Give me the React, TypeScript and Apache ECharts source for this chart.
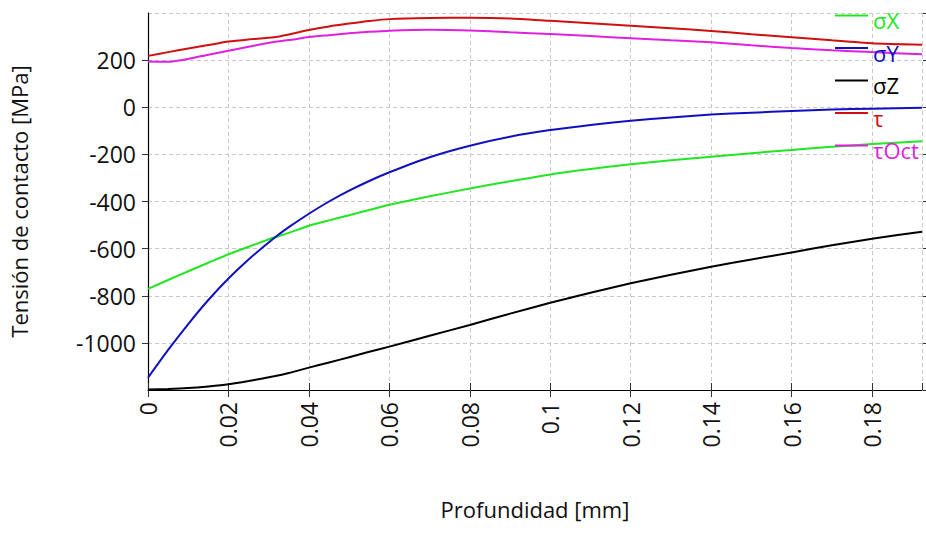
import React, { useEffect, useRef } from "react";
import * as echarts from "echarts";

const depth = [0, 0.005, 0.01, 0.015, 0.02, 0.025, 0.0313, 0.035, 0.04, 0.045, 0.05, 0.055, 0.06, 0.07, 0.08, 0.09, 0.1, 0.11, 0.12, 0.13, 0.14, 0.15, 0.16, 0.17, 0.18, 0.1924];
const sigmaX = [-771, -733, -696, -660, -624, -592, -553, -533, -503, -480, -458, -436, -414, -378, -345, -314, -285, -262, -242, -225, -210, -195, -181, -168, -156, -144];
const sigmaY = [-1148, -1030, -920, -818, -727, -646, -556, -509, -452, -400, -354, -313, -276, -212, -163, -125, -97, -75, -57, -43, -31, -23, -16, -10, -6, -2];
const sigmaZ = [-1198, -1196, -1192, -1185, -1176, -1162, -1142, -1128, -1105, -1083, -1061, -1038, -1016, -970, -924, -876, -830, -787, -747, -711, -677, -646, -616, -586, -558, -528];
const tau = [218, 234, 249, 264, 279, 288, 297, 309, 328, 343, 355, 366, 374, 379, 380, 377, 367, 357, 346, 335, 324, 310, 297, 284, 272, 265];
const tauOct = [194, 193, 205, 223, 240, 257, 277, 285, 298, 306, 314, 320, 325, 329, 326, 318, 311, 302, 293, 284, 276, 263, 251, 242, 234, 225];

const seriesNames = ["σX", "σY", "σZ", "τ", "τOct"];
const seriesColors = ["#22e622", "#1010c0", "#000000", "#d01010", "#e020e0"];
const seriesValues = [sigmaX, sigmaY, sigmaZ, tau, tauOct];

const xTitle = "Profundidad [mm]";
const yTitle = "Tensión de contacto [MPa]";

const FONT = "Open Sans";

export default function App() {
  const ref = useRef<HTMLDivElement>(null);
  useEffect(() => {
    if (!ref.current) return;
    const chart = echarts.init(ref.current, null, { renderer: "svg" });
    const xMin = 0, xMax = 0.1924, yMin = -1200, yMax = 400;
    const tickStyle = { color: "#333", width: 1 };
    chart.setOption({
      animation: false,
      backgroundColor: "#fff",
      textStyle: { fontFamily: FONT },
      grid: { left: 147, right: 4, top: 13, bottom: 144, containLabel: false },
      legend: {
        orient: "vertical",
        left: 835,
        top: 9,
        padding: 0,
        itemWidth: 33,
        itemHeight: 11,
        itemGap: 10.5,
        icon: "path://M0,0H33V2H0ZM0,11H0.01V11.01H0Z",
        textStyle: { fontFamily: FONT, fontSize: 22, lineHeight: 22 },
        data: seriesNames.map((n, i) => ({ name: n, textStyle: { color: seriesColors[i] } })),
      },
      xAxis: [
        {
          type: "value",
          min: xMin,
          max: xMax,
          interval: 0.02,
          name: xTitle,
          nameLocation: "middle",
          nameGap: 108,
          nameTextStyle: { fontFamily: FONT, fontSize: 22, color: "#111" },
          axisLine: { show: true, onZero: false, lineStyle: { color: "#000", width: 1.2 } },
          axisTick: { show: true, length: 7, lineStyle: tickStyle },
          axisLabel: { rotate: 90, margin: 12, fontFamily: FONT, fontSize: 23, color: "#111", showMaxLabel: false },
          splitLine: { show: true, lineStyle: { color: "#c8c8c8", type: [4, 3], width: 1 } },
        },
        {
          type: "value",
          position: "top",
          offset: -377,
          min: xMin,
          max: xMax,
          interval: 0.02,
          axisLine: { show: false },
          axisTick: { show: true, length: 7, lineStyle: tickStyle },
          axisLabel: { show: false },
          splitLine: { show: false },
        },
      ],
      yAxis: [
        {
          type: "value",
          min: yMin,
          max: yMax,
          interval: 200,
          name: yTitle,
          nameLocation: "middle",
          nameGap: 118,
          nameRotate: 90,
          nameTextStyle: { fontFamily: FONT, fontSize: 22, color: "#111" },
          axisLine: { show: true, onZero: false, lineStyle: { color: "#000", width: 1.2 } },
          axisTick: { show: true, length: 6, lineStyle: tickStyle },
          axisLabel: {
            margin: 12,
            fontFamily: FONT,
            fontSize: 23,
            color: "#111",
            showMaxLabel: false,
            showMinLabel: false,
            formatter: (v: number) => String(v),
          },
          splitLine: { show: true, lineStyle: { color: "#c8c8c8", type: [4, 3], width: 1 } },
        },
        {
          type: "value",
          position: "right",
          offset: -775,
          min: yMin,
          max: yMax,
          interval: 200,
          axisLine: { show: false },
          axisTick: { show: true, length: 7, lineStyle: tickStyle },
          axisLabel: { show: false },
          splitLine: { show: false },
        },
      ],
      series: seriesNames.map((n, i) => ({
        name: n,
        type: "line",
        xAxisIndex: 0,
        yAxisIndex: 0,
        data: depth.map((d, j) => [d, seriesValues[i][j]]),
        showSymbol: false,
        symbol: "none",
        smooth: 0.2,
        lineStyle: { color: seriesColors[i], width: 2 },
        itemStyle: { color: seriesColors[i] },
      })),
    });
    return () => chart.dispose();
  }, []);
  return (
    <div
      ref={ref}
      style={{ position: "fixed", left: 0, top: 0, width: 926, height: 534 }}
    />
  );
}
